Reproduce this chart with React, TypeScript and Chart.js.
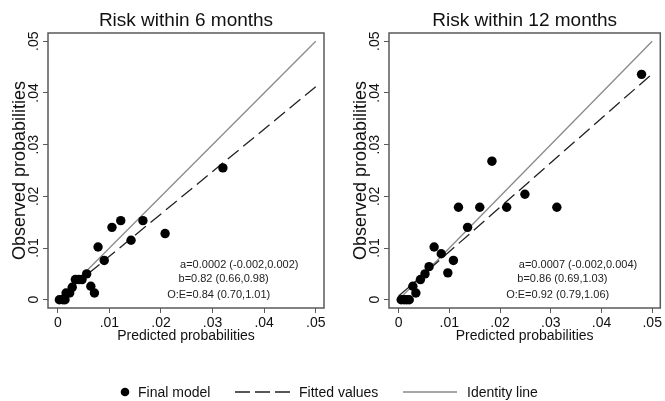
import React, { useEffect, useRef } from "react";
import { Chart, registerables } from "chart.js";

Chart.register(...registerables);

const FONT = "'Liberation Sans', Arial, Helvetica, sans-serif";
const FRAME = "#5a5a5a";
const TEXT = "#111111";

// ---- data ----
const titles = ["Risk within 6 months", "Risk within 12 months"];
const xTitle = "Predicted probabilities";
const yTitle = "Observed probabilities";
const tickValues = [0, 0.01, 0.02, 0.03, 0.04, 0.05];
const tickLabels = ["0", ".01", ".02", ".03", ".04", ".05"];

const pred6 = [0.0003, 0.001, 0.0014, 0.0016, 0.0023, 0.0028, 0.0034, 0.0041, 0.0047, 0.0056, 0.0064, 0.0071, 0.0078, 0.009, 0.0105, 0.0122, 0.0142, 0.0165, 0.0208, 0.032];
const obs6 = [0, 0, 0, 0.0013, 0.0013, 0.0024, 0.0039, 0.0039, 0.0039, 0.005, 0.0026, 0.0013, 0.0102, 0.0076, 0.014, 0.0153, 0.0115, 0.0153, 0.0128, 0.0255];

const pred12 = [0.0005, 0.0011, 0.0016, 0.0021, 0.0028, 0.0034, 0.0043, 0.0052, 0.006, 0.007, 0.0084, 0.0097, 0.0108, 0.0118, 0.0136, 0.016, 0.0184, 0.0213, 0.0249, 0.0312, 0.0479];
const obs12 = [0, 0, 0, 0, 0.0026, 0.0013, 0.0039, 0.005, 0.0064, 0.0102, 0.0089, 0.0052, 0.0076, 0.0179, 0.014, 0.0179, 0.0268, 0.0179, 0.0204, 0.0179, 0.0436];

const lineX = [0, 0.05];
const fitted6 = [0.0002, 0.0412];
const fitted12 = [0.0007, 0.0437];
const identityY = [0, 0.05];

const stats6 = ["a=0.0002 (-0.002,0.002)", "b=0.82 (0.66,0.98)", "O:E=0.84 (0.70,1.01)"];
const stats12 = ["a=0.0007 (-0.002,0.004)", "b=0.86 (0.69,1.03)", "O:E=0.92 (0.79,1.06)"];
const statX = [0.0237, 0.0234, 0.0212];
const statY = [0.0068, 0.0041, 0.0009];

const legendLabels = ["Final model", "Fitted values", "Identity line"];

const X_MIN = -0.0019;
const X_MAX = 0.0516;
const Y_MIN = -0.0016;
const Y_MAX = 0.0516;

type PanelProps = {
  left: number;
  width: number;
  height: number;
  padRight: number;
  title: string;
  pred: number[];
  obs: number[];
  fitted: number[];
  stats: string[];
};

function Panel(p: PanelProps) {
  const ref = useRef<HTMLCanvasElement | null>(null);

  useEffect(() => {
    if (!ref.current) return;
    const deco = {
      id: "deco",
      beforeDatasetsDraw(chart: any) {
        const { ctx, chartArea: ca } = chart;
        ctx.save();
        ctx.strokeStyle = FRAME;
        ctx.lineWidth = 1.5;
        ctx.strokeRect(ca.left, ca.top, ca.right - ca.left, ca.bottom - ca.top);
        ctx.restore();
      },
      afterDraw(chart: any) {
        const { ctx, chartArea: ca, scales } = chart;
        const xs = scales.x;
        const ys = scales.y;
        ctx.save();
        ctx.fillStyle = TEXT;
        ctx.font = `19px ${FONT}`;
        ctx.textAlign = "center";
        ctx.textBaseline = "middle";
        ctx.fillText(p.title, (ca.left + ca.right) / 2, 21);

        ctx.font = `14px ${FONT}`;
        ys.ticks.forEach((t: any) => {
          const idx = tickValues.indexOf(t.value);
          const py = ys.getPixelForValue(t.value);
          ctx.save();
          ctx.translate(ca.left - 14, py);
          ctx.rotate(-Math.PI / 2);
          ctx.fillText(tickLabels[idx] ?? String(t.value), 0, 0);
          ctx.restore();
        });

        ctx.font = `11px ${FONT}`;
        ctx.textAlign = "left";
        ctx.fillStyle = "#222";
        p.stats.forEach((s, i) => {
          ctx.fillText(s, xs.getPixelForValue(statX[i]), ys.getPixelForValue(statY[i]));
        });
        ctx.restore();
      },
    };

    const chart = new Chart(ref.current, {
      type: "scatter",
      data: {
        datasets: [
          {
            type: "scatter",
            label: legendLabels[0],
            data: p.pred.map((x, i) => ({ x, y: p.obs[i] })),
            backgroundColor: "#000",
            borderWidth: 0,
            pointRadius: 4.7,
          },
          {
            type: "line",
            label: legendLabels[1],
            data: lineX.map((x, i) => ({ x, y: p.fitted[i] })),
            borderColor: "#222",
            borderWidth: 1.3,
            borderDash: [14, 6],
            pointRadius: 0,
            fill: false,
          },
          {
            type: "line",
            label: legendLabels[2],
            data: lineX.map((x, i) => ({ x, y: identityY[i] })),
            borderColor: "#8a8a8a",
            borderWidth: 1.3,
            pointRadius: 0,
            fill: false,
          },
        ],
      } as any,
      plugins: [deco],
      options: {
        animation: false,
        responsive: false,
        devicePixelRatio: 1,
        layout: { padding: { top: 33, left: 0, right: p.padRight, bottom: 0 } },
        plugins: { legend: { display: false }, tooltip: { enabled: false }, title: { display: false } },
        scales: {
          x: {
            type: "linear",
            min: X_MIN,
            max: X_MAX,
            afterBuildTicks: (s: any) => {
              s.ticks = tickValues.map((v) => ({ value: v }));
            },
            afterFit: (s: any) => {
              s.height = p.height - 308;
            },
            grid: { drawOnChartArea: false, drawTicks: true, tickLength: 5, color: FRAME, lineWidth: 1 },
            border: { display: false },
            ticks: {
              callback: (_v: any, i: number) => tickLabels[i],
              font: { family: FONT, size: 14 },
              color: TEXT,
              padding: 2,
              maxRotation: 0,
              minRotation: 0,
              autoSkip: false,
            },
            title: {
              display: true,
              text: xTitle,
              font: { family: FONT, size: 14 },
              color: TEXT,
              padding: { top: 0, bottom: 5.6 },
            },
          },
          y: {
            type: "linear",
            min: Y_MIN,
            max: Y_MAX,
            afterBuildTicks: (s: any) => {
              s.ticks = tickValues.map((v) => ({ value: v }));
            },
            afterFit: (s: any) => {
              s.width = 48;
            },
            grid: { drawOnChartArea: false, drawTicks: true, tickLength: 5, color: FRAME, lineWidth: 1 },
            border: { display: false },
            ticks: { display: false },
            title: {
              display: true,
              text: yTitle,
              font: { family: FONT, size: 18 },
              color: TEXT,
              padding: { top: 9.2, bottom: 0 },
            },
          },
        },
      } as any,
    });
    return () => chart.destroy();
  }, []);

  return (
    <canvas
      ref={ref}
      width={p.width}
      height={p.height}
      style={{ position: "absolute", left: p.left, top: 0, width: p.width, height: p.height }}
    />
  );
}

export default function App() {
  const textStyle = (left: number): React.CSSProperties => ({
    position: "absolute",
    left,
    top: 384,
    fontFamily: FONT,
    fontSize: 14,
    lineHeight: "16px",
    color: TEXT,
    whiteSpace: "nowrap",
  });
  return (
    <div
      style={{
        position: "fixed",
        left: 0,
        top: 0,
        width: 665,
        height: 401,
        overflow: "hidden",
        background: "#fff",
      }}
    >
      <Panel left={0} width={332} height={350} padRight={8} title={titles[0]} pred={pred6} obs={obs6} fitted={fitted6} stats={stats6} />
      <Panel left={341} width={324} height={350} padRight={1} title={titles[1]} pred={pred12} obs={obs12} fitted={fitted12} stats={stats12} />
      <svg width={665} height={401} style={{ position: "absolute", left: 0, top: 0 }}>
        <circle cx={125} cy={392} r={4.3} fill="#000" />
        <line x1={235} y1={392} x2={290} y2={392} stroke="#222" strokeWidth={1.3} strokeDasharray="15 5" />
        <line x1={403} y1={392} x2={457} y2={392} stroke="#8a8a8a" strokeWidth={1.3} />
      </svg>
      <span style={textStyle(138)}>{legendLabels[0]}</span>
      <span style={textStyle(299)}>{legendLabels[1]}</span>
      <span style={textStyle(467)}>{legendLabels[2]}</span>
    </div>
  );
}
